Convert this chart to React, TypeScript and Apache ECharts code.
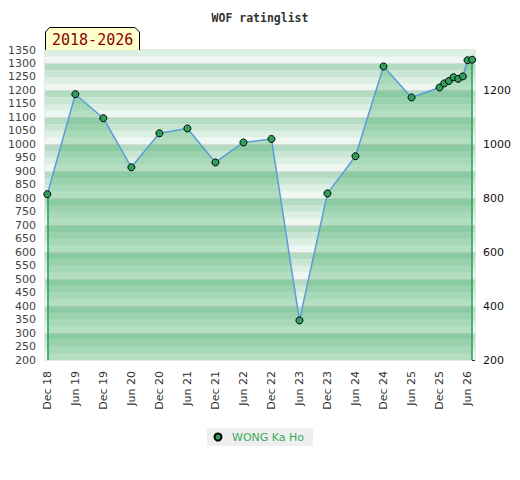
import React, { useEffect, useRef } from "react";
import * as echarts from "echarts";

const TITLE = "WOF ratinglist";
const PERIOD = "2018-2026";
const PLAYER = "WONG Ka Ho";

const dates = [
  "2018-12", "2019-06", "2019-12", "2020-06", "2020-12", "2021-06", "2021-12",
  "2022-06", "2022-12", "2023-06", "2023-12", "2024-06", "2024-12", "2025-06",
  "2025-12", "2026-01", "2026-02", "2026-03", "2026-04", "2026-05", "2026-06", "2026-07",
];
const ratings = [
  815, 1186, 1097, 915, 1041, 1059, 933, 1007, 1020, 347, 818, 956, 1289, 1174,
  1211, 1226, 1235, 1249, 1243, 1252, 1312, 1314,
];
const xTickLabels = [
  "Dec 18", "Jun 19", "Dec 19", "Jun 20", "Dec 20", "Jun 21", "Dec 21", "Jun 22",
  "Dec 22", "Jun 23", "Dec 23", "Jun 24", "Dec 24", "Jun 25", "Dec 25", "Jun 26",
];
const rightLabelValues = [200, 400, 600, 800, 1000, 1200];
const rightTickValues = [200, 300, 400, 500, 600, 700, 800, 900, 1000, 1100, 1200, 1300];
const gridLineValues = [300, 400, 500, 600, 700, 800, 900, 1000, 1100, 1200, 1300];

const Y_MIN = 200;
const Y_MAX = 1350;
const BAND_STEP = 25;
const bandColors = ["#eef7f1", "#dcefe3", "#c8e6d3", "#b3dcc3"];

const monthIndex = (d: string) => {
  const [y, m] = d.split("-").map(Number);
  return (y - 2018) * 12 + (m - 12);
};

export default function App() {
  const ref = useRef<HTMLDivElement>(null);
  useEffect(() => {
    if (!ref.current) return;
    const chart = echarts.init(ref.current, null, { renderer: "svg" });
    const points = dates.map((d, i) => [monthIndex(d), ratings[i]]);
    const first = points[0];
    const last = points[points.length - 1];

    const bands: any[] = [];
    for (let v = Y_MIN, k = 0; v < Y_MAX; v += BAND_STEP, k++) {
      bands.push([
        { yAxis: v, itemStyle: { color: bandColors[k % 4] } },
        { yAxis: v + BAND_STEP },
      ]);
    }

    const font = "DejaVu Sans";
    chart.setOption({
      animation: false,
      title: {
        text: TITLE,
        left: "center",
        top: 7,
        textStyle: { fontFamily: "DejaVu Sans Mono", fontWeight: "bold", fontSize: 11.5, color: "#333" },
      },
      legend: {
        left: 207,
        top: 428,
        backgroundColor: "#efefef",
        padding: [3, 9, 3, 6.5],
        icon: "circle",
        itemWidth: 18,
        itemHeight: 7,
        textStyle: { fontFamily: font, fontSize: 11, color: "#3aaa5c", lineHeight: 12 },
        data: [PLAYER],
      },
      grid: {
        left: 45,
        right: 45,
        top: 50,
        bottom: 120,
        show: true,
        borderColor: "#cfcfcf",
        borderWidth: 1,
        backgroundColor: "transparent",
      },
      xAxis: {
        type: "value",
        min: -0.5,
        max: 91.6,
        axisLine: { show: false },
        axisTick: { show: false },
        splitLine: { show: false },
        axisLabel: {
          customValues: xTickLabels.map((_, i) => i * 6),
          formatter: (v: number) => xTickLabels[Math.round(v / 6)] ?? "",
          rotate: 90,
          margin: 11,
          fontFamily: font,
          fontSize: 11,
          color: "#333",
        },
      },
      yAxis: [
        {
          type: "value",
          min: Y_MIN,
          max: Y_MAX,
          interval: 50,
          axisLine: { show: false },
          axisTick: { show: false },
          splitLine: { show: false },
          axisLabel: {
            margin: 9,
            fontFamily: font,
            fontSize: 11,
            color: "#444",
            formatter: (v: number) => String(v),
          },
        },
        {
          type: "value",
          position: "right",
          min: Y_MIN,
          max: Y_MAX,
          interval: 100,
          axisLine: { show: false },
          axisTick: {
            show: true,
            inside: true,
            length: 3,
            customValues: rightTickValues,
            lineStyle: { color: "#333" },
          },
          splitLine: { show: false },
          axisLabel: {
            customValues: rightLabelValues,
            margin: 8,
            fontFamily: font,
            fontSize: 11,
            color: "#111",
            formatter: (v: number) => String(v),
          },
        },
      ],
      series: [
        {
          type: "line",
          data: [],
          silent: true,
          z: 1,
          markArea: { silent: true, z: 1, label: { show: false }, data: bands },
        },
        {
          type: "line",
          data: [],
          silent: true,
          z: 1.5,
          markLine: {
            silent: true,
            z: 1.5,
            symbol: ["none", "none"],
            label: { show: false },
            lineStyle: { color: "#dadada", width: 1, type: "solid" },
            data: gridLineValues.map((v) => ({ yAxis: v })),
          },
        },
        {
          type: "line",
          name: PLAYER,
          z: 3,
          data: points,
          symbol: "circle",
          symbolSize: 7,
          itemStyle: { color: "#2f9f5c", borderColor: "#000", borderWidth: 1 },
          lineStyle: { color: "#5a9bd8", width: 1.5 },
          areaStyle: { color: "rgba(40,162,83,0.42)", origin: "start" },
          markLine: {
            silent: true,
            z: 2.5,
            symbol: ["none", "none"],
            label: { show: false },
            lineStyle: { color: "#2ca05a", width: 1.5, type: "solid" },
            data: [
              [{ coord: [first[0], Y_MIN] }, { coord: [first[0], first[1]] }],
              [{ coord: [last[0], Y_MIN] }, { coord: [last[0], last[1]] }],
            ],
          },
        },
      ],
      graphic: [
        {
          type: "polygon",
          z: 100,
          shape: { points: [[45, 50], [45, 32], [49.5, 27.5], [135, 27.5], [140, 32], [140, 50]] },
          style: { fill: "#ffffcc", stroke: "none" },
        },
        {
          type: "polyline",
          z: 101,
          shape: { points: [[45.5, 50], [45.5, 32], [49.5, 27.5], [135, 27.5], [139.5, 32], [139.5, 50]] },
          style: { stroke: "#000", lineWidth: 1, fill: "none" },
        },
        {
          type: "text",
          z: 102,
          x: 52,
          y: 40,
          style: {
            text: PERIOD,
            fontFamily: "DejaVu Sans Mono",
            fontSize: 15,
            fill: "#8b0000",
            verticalAlign: "middle",
          },
        },
      ],
    });
    return () => chart.dispose();
  }, []);
  return (
    <div
      ref={ref}
      style={{ position: "absolute", left: 0, top: 0, width: 520, height: 480, background: "#fff" }}
    />
  );
}
